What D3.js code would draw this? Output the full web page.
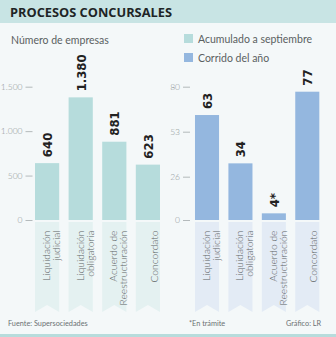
<!DOCTYPE html>
<html><head><meta charset="utf-8">
<script src="https://cdn.jsdelivr.net/npm/d3@7"></script>
<style>
html,body{margin:0;padding:0;background:#f4f8f9;}
svg{display:block;}
</style></head>
<body>
<script>
// ---- data ----
const categoryLines = [["Liquidación","judicial"],["Liquidación","obligatoria"],["Acuerdo de","Reestructuración"],["Concordato"]];
const categories = ["Liquidación judicial","Liquidación obligatoria","Acuerdo de Reestructuración","Concordato"];
const accumulated = [640, 1380, 881, 623];
const accumulatedLabels = ["640","1.380","881","623"];
const corrido = [63, 34, 4, 77];
const corridoLabels = ["63","34","4*","77"];
const leftTicks = [0, 500, 1000, 1500];
const leftTickLabels = ["0","500","1.000","1.500"];
const rightTicks = [0, 26, 53, 80];
const rightTickLabels = ["0","26","53","80"];
const seriesNames = ["Acumulado a septiembre","Corrido del año"];

const W = 336, H = 337;
const colors = {left:"#b6dcdc", right:"#94b7df", leftPale:"#e4f1f1", rightPale:"#e3ebf5"};
const svg = d3.select("body").append("svg").attr("width", W).attr("height", H);
svg.append("rect").attr("width", W).attr("height", H).attr("fill", "#f4f8f9");

// header
svg.append("rect").attr("x",0).attr("y",0).attr("width",W).attr("height",23).attr("fill","#c8e4e4");
svg.append("text").attr("x",10).attr("y",17).text("PROCESOS CONCURSALES")
  .attr("font-family","'Open Sans', sans-serif").attr("font-weight",700).attr("font-size",12.8).attr("fill","#1e2426");

svg.append("text").attr("x",11).attr("y",44).text("Número de empresas")
  .attr("font-family","Lato, sans-serif").attr("font-size",10.5).attr("fill","#5a5f61");

// legend
[[colors.left, 34], [colors.right, 53]].forEach((d,i)=>{
  svg.append("rect").attr("x",184).attr("y",d[1]).attr("width",9).attr("height",9).attr("fill",d[0]);
  svg.append("text").attr("x",198).attr("y",d[1]+8.5).text(seriesNames[i])
    .attr("font-family","Lato, sans-serif").attr("font-size",10.5).attr("fill","#5a5f61");
});

const baseY = 220, topY = 86.7;
function panel(opts){
  const x = d3.scaleBand().domain(categories).range(opts.range).paddingInner(0.28).paddingOuter(0.14);
  const y = d3.scaleLinear().domain(opts.domain).range([baseY, topY]);
  const g = svg.append("g");
  // axis
  const ax = g.append("g").attr("transform",`translate(${opts.axisX},0)`)
    .call(d3.axisLeft(y).tickValues(opts.ticks).tickSize(7).tickPadding(3)
      .tickFormat((d,i)=>opts.tickLabels[i]));
  ax.select(".domain").remove();
  ax.selectAll("line").attr("stroke","#a3aaac").attr("stroke-width",0.8);
  ax.selectAll("text").attr("font-family","Lato, sans-serif").attr("font-weight",300).attr("font-size",8.5).attr("fill","#8d9496");

  // ribbons
  const rTop = 222, rBot = 312, notch = 7;
  g.selectAll(".rib").data(categories).join("path")
    .attr("fill", opts.pale)
    .attr("d", d=>{const x0=x(d), x1=x(d)+x.bandwidth(), cx=(x0+x1)/2;
      return `M${x0},${rTop}H${x1}V${rBot}L${cx},${rBot-notch}L${x0},${rBot}Z`;});

  // bars
  g.selectAll(".bar").data(opts.values).join("rect")
    .attr("x",(d,i)=>x(categories[i])).attr("width",x.bandwidth())
    .attr("y",d=>y(d)).attr("height",d=>baseY-y(d)).attr("fill",opts.color);

  // value labels
  g.selectAll(".val").data(opts.values).join("text")
    .attr("transform",(d,i)=>`translate(${x(categories[i])+x.bandwidth()/2+5},${y(d)-6}) rotate(-90)`)
    .attr("font-family","'Liberation Sans Narrow','DejaVu Sans Condensed',sans-serif")
    .attr("font-weight",700).attr("font-size",13).attr("fill","#222")
    .text((d,i)=>opts.labels[i]);

  // category labels
  categories.forEach((c,i)=>{
    const cx = x(c)+x.bandwidth()/2;
    const lines = categoryLines[i];
    const offs = lines.length===2 ? [3,13] : [10];
    lines.forEach((ln,j)=>{
      g.append("text")
        .attr("transform",`translate(${cx+offs[j]},230.5) rotate(-90)`)
        .attr("text-anchor","end")
        .attr("font-family","Lato, sans-serif").attr("font-weight",300).attr("font-size",10.3).attr("fill","#5d6264")
        .text(ln);
    });
  });
}

panel({range:[30.3,164.7], domain:[0,1500], ticks:leftTicks, tickLabels:leftTickLabels, axisX:32.5,
  values:accumulated, labels:accumulatedLabels, color:colors.left, pale:colors.leftPale});
panel({range:[190.3,324], domain:[0,80], ticks:rightTicks, tickLabels:rightTickLabels, axisX:190,
  values:corrido, labels:corridoLabels, color:colors.right, pale:colors.rightPale});

// footer
const foot = [["Fuente: Supersociedades",8],["*En trámite",189],["Gráfico: LR",286]];
foot.forEach(f=>svg.append("text").attr("x",f[1]).attr("y",326).text(f[0])
  .attr("font-family","Lato, sans-serif").attr("font-size",7.3).attr("fill","#6b7173"));
svg.append("rect").attr("x",0).attr("y",334).attr("width",W).attr("height",3).attr("fill","#b7dcdc");
</script>
</body></html>
